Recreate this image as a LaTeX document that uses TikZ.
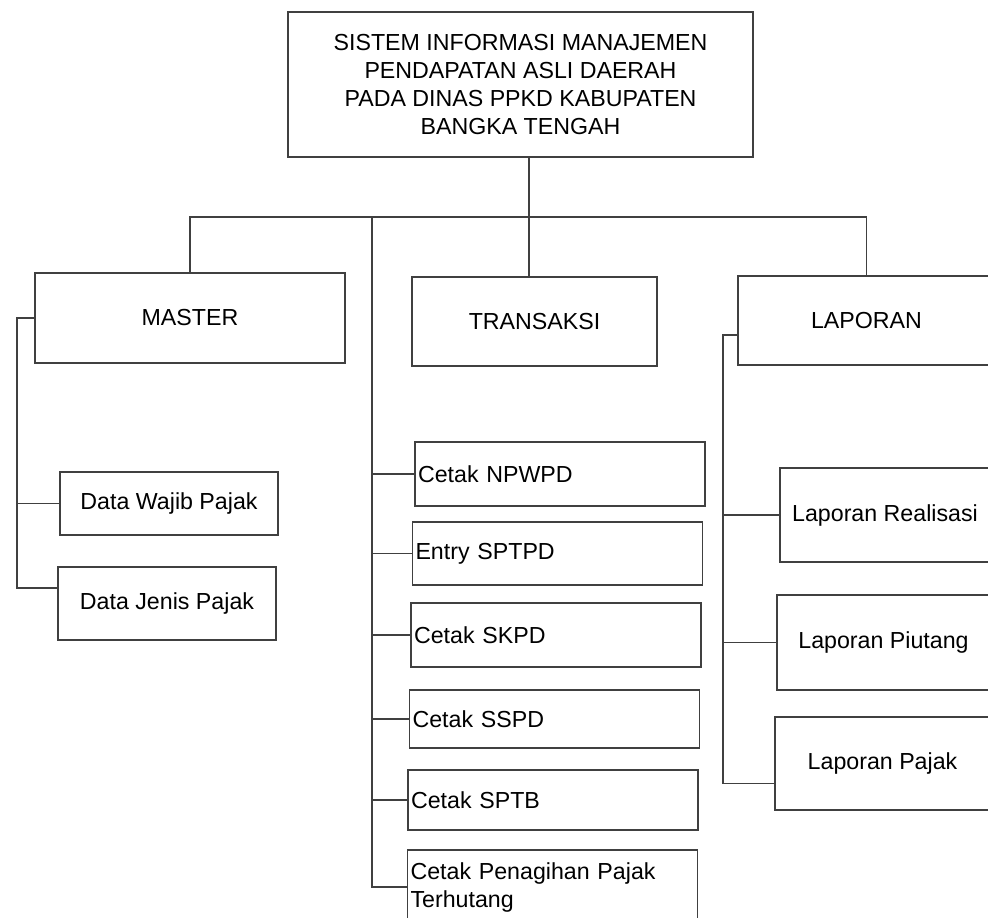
\documentclass[tikz,border=0pt]{standalone}
\usepackage{fontspec}
\setmainfont{Liberation Sans}
\usetikzlibrary{calc}

\tikzset{kotak/.style={draw=black!75, line width=0.6pt, inner sep=1.5pt},
  submenu/.style={kotak, text width=142pt, align=left},
  garis/.style={black!75, line width=0.6pt}}

\begin{document}
\begin{tikzpicture}[x=0.5pt, y=-0.5pt, font=\fontsize{11.6}{14}\selectfont]
\path[use as bounding box, clip] (0,0) rectangle (988,917);
% judul
\node[kotak, minimum width=232.5pt, minimum height=72.5pt, align=center] (judul) at (520.5,84.5)
  {SISTEM INFORMASI MANAJEMEN\\PENDAPATAN ASLI DAERAH\\PADA DINAS PPKD KABUPATEN\\BANGKA TENGAH};
% menu utama
\node[kotak, minimum width=155pt, minimum height=45pt] (master) at (190,318) {MASTER};
\node[kotak, minimum width=122.5pt, minimum height=44.5pt] (transaksi) at (534.5,321.5) {TRANSAKSI};
\node[kotak, minimum width=128.5pt, minimum height=44.5pt] (laporan) at (866.5,320.5) {LAPORAN};
% master
\node[kotak, minimum width=109pt, minimum height=31.5pt] (wajib) at (169,503.5) {Data Wajib Pajak};
\node[kotak, minimum width=109pt, minimum height=36.5pt] (jenis) at (167,603.5) {Data Jenis Pajak};
% transaksi
\node[submenu, minimum height=32pt] (npwpd) at (560,474) {Cetak NPWPD};
\node[submenu, minimum height=31.5pt] (sptpd) at (557.5,553.5) {Entry SPTPD};
\node[submenu, minimum height=32pt] (skpd) at (556,635) {Cetak SKPD};
\node[submenu, minimum height=29pt] (sspd) at (554.5,719) {Cetak SSPD};
\node[submenu, minimum height=30pt] (sptb) at (553,800) {Cetak SPTB};
\node[submenu, minimum height=37pt] (tagih) at (552.5,887) {Cetak Penagihan Pajak\\Terhutang};
% laporan
\node[kotak, minimum width=105pt, minimum height=47pt] (realisasi) at (885,515) {Laporan Realisasi};
\node[kotak, minimum width=106.5pt, minimum height=47.5pt] (piutang) at (883.5,642.5) {Laporan Piutang};
\node[kotak, minimum width=107.5pt, minimum height=46.5pt] (pajak) at (882.5,763.5) {Laporan Pajak};

% garis penghubung
\coordinate (cabang) at (529,217);
\coordinate (tsp) at (372,217);
\coordinate (msp) at (17,0);
\coordinate (lsp) at (723,0);
\draw[garis] (judul.south -| cabang) -- (transaksi.north -| cabang);
\draw[garis] (master.north) |- (cabang) -| (laporan.north);

\draw[garis] (tsp) |- (tagih.west);
\foreach \n in {npwpd,sptpd,skpd,sspd,sptb} {
 \draw[garis] (tsp |- \n.west) -- (\n.west);
}

\coordinate (jenisin) at ($(jenis.south west)!0.71!(jenis.north west)$);
\draw[garis] (master.west) -- (master.west -| msp) |- (jenisin);
\draw[garis] (msp |- wajib.west) -- (wajib.west);

\coordinate (lapout) at ($(laporan.north west)!0.66!(laporan.south west)$);
\coordinate (pajakin) at ($(pajak.south west)!0.29!(pajak.north west)$);
\draw[garis] (lapout) -- (lapout -| lsp) |- (pajakin);
\foreach \n in {realisasi,piutang} {
 \draw[garis] (lsp |- \n.west) -- (\n.west);
}
\end{tikzpicture}
\end{document}
